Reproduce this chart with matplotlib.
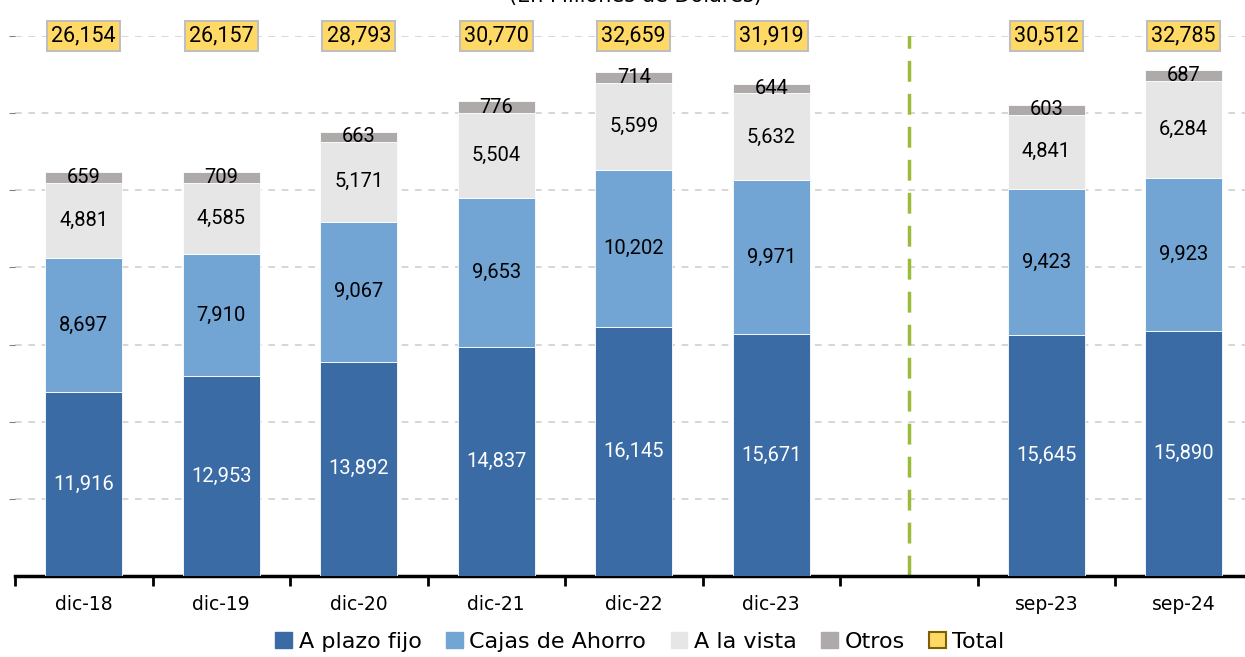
import numpy as np
import matplotlib.pyplot as plt
from matplotlib.patches import Patch

categorias = ["dic-18", "dic-19", "dic-20", "dic-21", "dic-22", "dic-23", "", "sep-23", "sep-24"]
plazo_fijo = [11916, 12953, 13892, 14837, 16145, 15671, np.nan, 15645, 15890]
cajas_ahorro = [8697, 7910, 9067, 9653, 10202, 9971, np.nan, 9423, 9923]
a_la_vista = [4881, 4585, 5171, 5504, 5599, 5632, np.nan, 4841, 6284]
otros = [659, 709, 663, 776, 714, 644, np.nan, 603, 687]
totales = [26154, 26157, 28793, 30770, 32659, 31919, np.nan, 30512, 32785]

series = [
    ("A plazo fijo", plazo_fijo, "#3A6BA5", "white"),
    ("Cajas de Ahorro", cajas_ahorro, "#72A4D4", "black"),
    ("A la vista", a_la_vista, "#E6E6E6", "black"),
    ("Otros", otros, "#AEAAAA", "black"),
]

num_font = "Roboto"
txt_font = "DejaVu Sans"

fig = plt.figure(figsize=(12.45, 6.57), dpi=100)
ax = fig.add_axes([15 / 1245, 1 - 576 / 657, 1237.5 / 1245, 540 / 657])

x = np.arange(len(categorias))
base = np.zeros(len(categorias))
for nombre, vals, color, tcol in series:
    v = np.array(vals, dtype=float)
    ax.bar(x, np.nan_to_num(v), 0.56, bottom=base, color=color,
           edgecolor="white", linewidth=0.6, zorder=3)
    for xi, b, h in zip(x, base, v):
        if np.isnan(h):
            continue
        ax.text(xi, b + h / 2, f"{int(h):,}", ha="center", va="center",
                fontsize=14.5, color=tcol, family=num_font, zorder=5)
    base += np.nan_to_num(v)

for xi, t in zip(x, totales):
    if np.isnan(t):
        continue
    ax.text(xi, 35000, f"{int(t):,}", ha="center", va="center", fontsize=15.5,
            family=num_font, zorder=6,
            bbox=dict(boxstyle="square,pad=0.2", fc="#FFD966", ec="#BFBFBF", lw=1.5))

# linea divisoria
ax.plot([6, 6], [0, 35200], color="#9BBB3B", lw=2.5, ls=(0, (6, 3.5)), zorder=2)

ax.set_xlim(-0.5, 8.5)
ax.set_ylim(0, 35000)
ax.set_yticks(np.arange(5000, 35001, 5000))
ax.yaxis.grid(True, color="#D0D0D0", ls=(0, (4, 4)), lw=1.2, zorder=0)
ax.tick_params(axis="y", length=4, color="#808080", labelleft=False)
ax.set_xticks(x)
ax.set_xticklabels(categorias, fontsize=13.5, family=txt_font)
ax.set_xticks(np.arange(-0.5, 9, 1), minor=True)
ax.tick_params(axis="x", which="major", length=0, pad=14)
ax.tick_params(axis="x", which="minor", length=7, width=2, color="black")
for s in ["top", "right", "left"]:
    ax.spines[s].set_visible(False)
ax.spines["bottom"].set_linewidth(2.5)

handles = [Patch(facecolor=c, edgecolor=c, label=n) for n, _, c, _ in series]
handles.append(Patch(facecolor="#FFD966", edgecolor="#7F6000", lw=1.5, label="Total"))
fig.legend(handles=handles, loc="center", bbox_to_anchor=(640 / 1245, 1 - 642 / 657),
           ncol=5, frameon=False, prop={"family": txt_font, "size": 16},
           handlelength=0.75, handleheight=0.75, handletextpad=0.3, columnspacing=1.1)

fig.text(635 / 1245, 1 - 2 / 657, "(En Millones de Dólares)", ha="center",
         va="baseline", fontsize=15, family=txt_font)

fig.savefig("out.png", dpi=100)
